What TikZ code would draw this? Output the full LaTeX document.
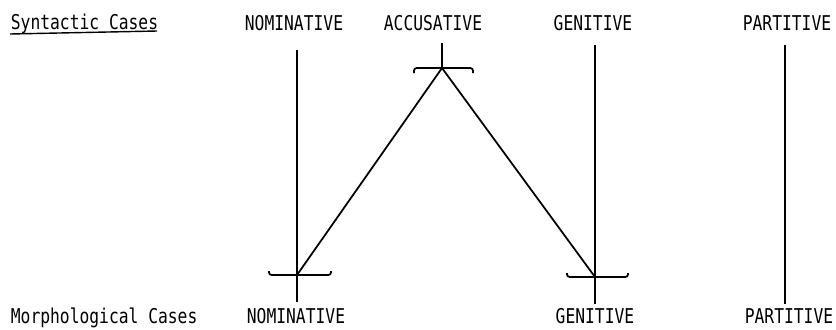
\documentclass[tikz,border=0pt]{standalone}
\usepackage{fontspec}
\setmainfont[FakeStretch=0.8]{DejaVu Sans Mono}
\begin{document}
\begin{tikzpicture}[x=0.02cm, y=-0.02cm, line width=1pt,
  casename/.style={anchor=base, inner sep=0pt, font=\fontsize{11.6}{13}\selectfont},
  hookbar/.style={rounded corners=1.5pt}]
  \useasboundingbox (0,0) rectangle (836,329);
  \node[casename, anchor=base west] (syn) at (10,29) {Syntactic Cases};
  \draw[line width=0.8pt] (10,34) -- (157,31);
  \node[casename] (synNom) at (294,30) {NOMINATIVE};
  \node[casename] (synAcc) at (433,30) {ACCUSATIVE};
  \node[casename] (synGen) at (593,30) {GENITIVE};
  \node[casename] (synPar) at (787,30) {PARTITIVE};
  \node[casename, anchor=base west] (mor) at (10,323) {Morphological Cases};
  \node[casename] (morNom) at (296,323) {NOMINATIVE};
  \node[casename] (morGen) at (595,323) {GENITIVE};
  \node[casename] (morPar) at (789,323) {PARTITIVE};
  \coordinate (nomT) at (297,50);  \coordinate (nomJ) at (297,275); \coordinate (nomE) at (297,302);
  \coordinate (accT) at (442,43);  \coordinate (accJ) at (442,68);
  \coordinate (genT) at (595,45);  \coordinate (genJ) at (595,277); \coordinate (genE) at (595,304);
  \coordinate (parT) at (785,45);  \coordinate (parE) at (785,304);
  \draw (nomT) -- (nomE);
  \draw (genT) -- (genE);
  \draw (parT) -- (parE);
  \draw (accT) -- (accJ);
  \draw (accJ) -- (nomJ);
  \draw (accJ) -- (genJ);
  \draw[hookbar] ([shift={(-28,5)}]accJ) |- ([shift={(31,0)}]accJ) -- ++(0,5);
  \draw[hookbar] ([shift={(-28,-4)}]nomJ) |- ([shift={(34,0)}]nomJ) -- ++(0,-4);
  \draw[hookbar] ([shift={(-28,-4)}]genJ) |- ([shift={(33,0)}]genJ) -- ++(0,-4);
\end{tikzpicture}
\end{document}
